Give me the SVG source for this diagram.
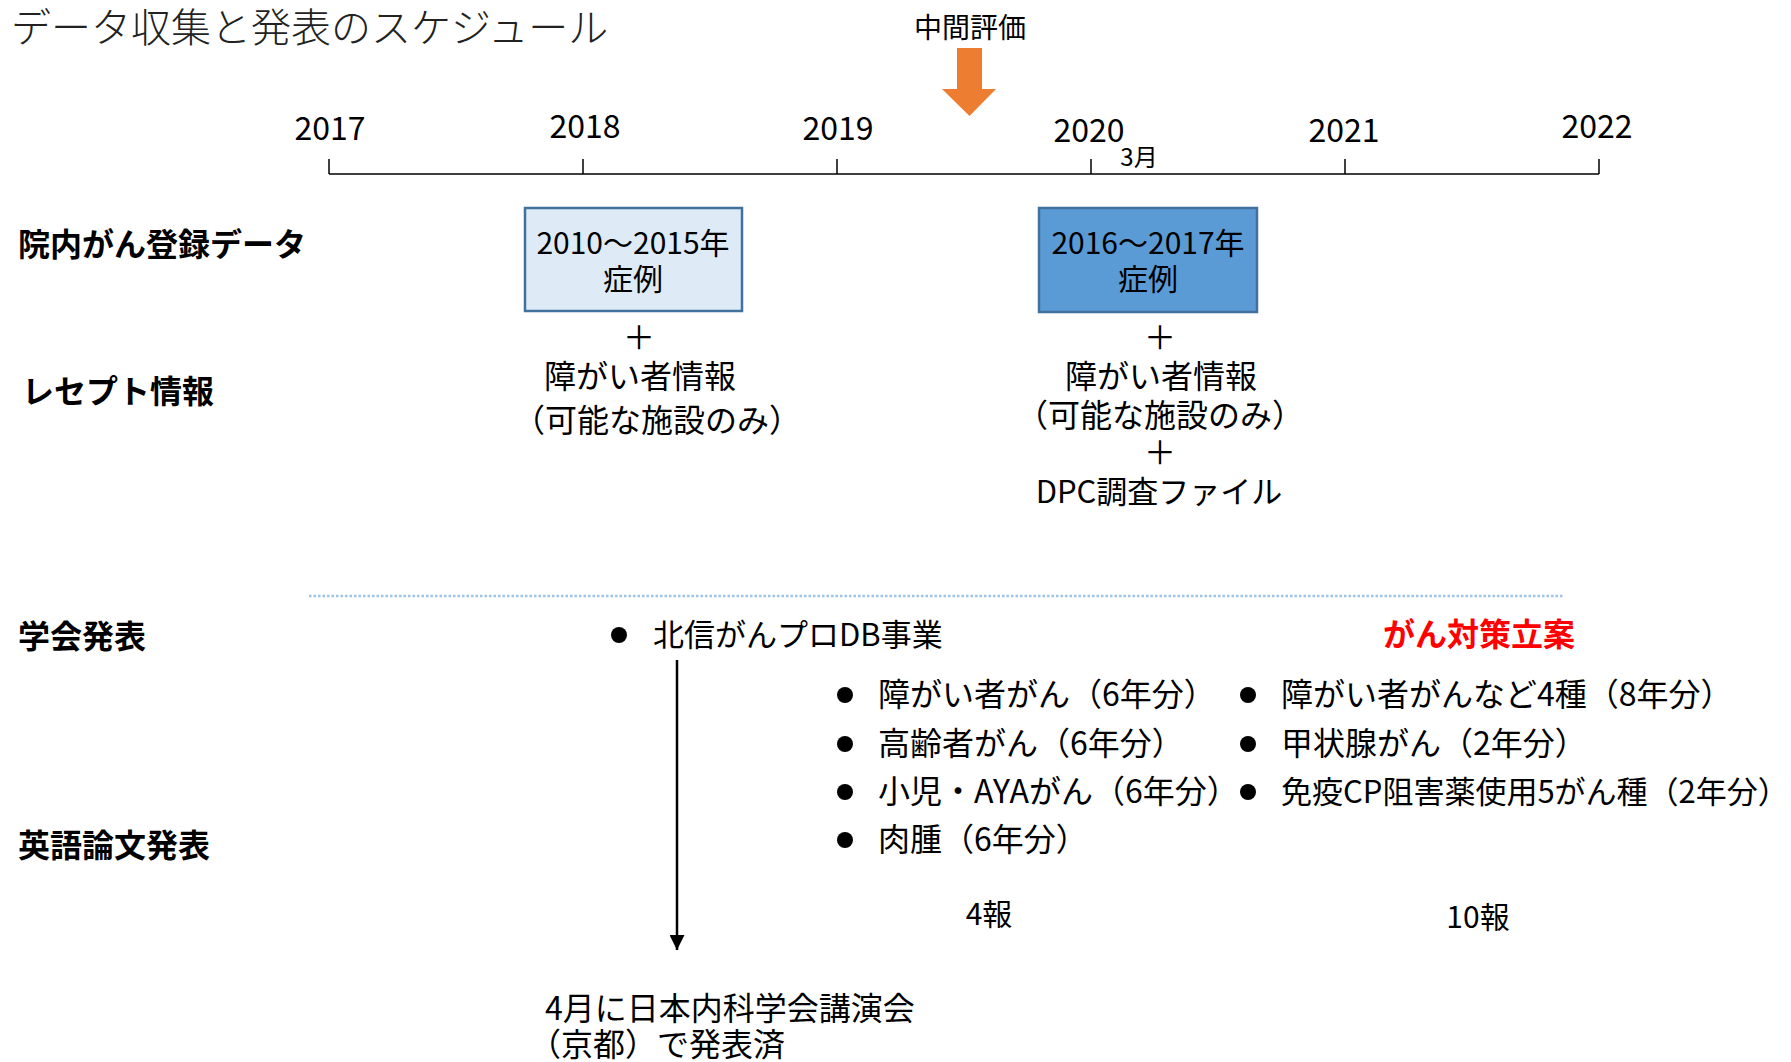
<svg xmlns="http://www.w3.org/2000/svg" width="1791" height="1062" viewBox="0 0 1791 1062">
<style>
text{font-family:"Noto Sans CJK JP","Noto Sans",sans-serif;fill:#000;}
.title{font-size:40px;font-weight:300;fill:#222;}
.year{font-size:32px;text-anchor:middle;}
.sec{font-size:32px;font-weight:700;}
.box{font-size:30px;text-anchor:middle;}
.t{font-size:32px;}
.tm{font-size:32px;text-anchor:middle;}
.red{font-size:32px;font-weight:700;fill:#FF0000;text-anchor:middle;}
.axis{stroke:#000;stroke-width:1.5;fill:none;}
</style>
<defs>
<marker id="ah" viewBox="0 0 10 10" refX="10" refY="5" markerWidth="6" markerHeight="6" orient="auto" markerUnits="strokeWidth">
<path d="M0,0 L10,5 L0,10 Z" fill="#000"/>
</marker>
</defs>
<g id="title"><text class="title" x="11" y="42">データ収集と発表のスケジュール</text></g>
<g id="timeline">
<line class="axis" x1="329" y1="174" x2="1599" y2="174"/>
<line class="axis" x1="329" y1="159" x2="329" y2="174"/>
<line class="axis" x1="583" y1="159" x2="583" y2="174"/>
<line class="axis" x1="837" y1="159" x2="837" y2="174"/>
<line class="axis" x1="1091" y1="159" x2="1091" y2="174"/>
<line class="axis" x1="1345" y1="159" x2="1345" y2="174"/>
<line class="axis" x1="1599" y1="159" x2="1599" y2="174"/>
<text class="year" x="330" y="140">2017</text>
<text class="year" x="585" y="138">2018</text>
<text class="year" x="838" y="140">2019</text>
<text class="year" x="1089" y="142">2020</text>
<text class="year" x="1344" y="142">2021</text>
<text class="year" x="1597" y="138">2022</text>
<text x="1139" y="166" style="font-size:24px;text-anchor:middle">3月</text>
</g>
<g id="midterm">
<text x="970" y="38" style="font-size:28px;text-anchor:middle">中間評価</text>
<path d="M957,48 H982 V89 H996 L969.5,116 L942,89 H957 Z" fill="#ED7D31"/>
</g>
<g id="labels">
<text class="sec" x="18" y="256">院内がん登録データ</text>
<text class="sec" x="22" y="403">レセプト情報</text>
<text class="sec" x="18" y="648">学会発表</text>
<text class="sec" x="18" y="857">英語論文発表</text>
</g>
<g id="box1">
<rect x="525" y="208" width="217" height="103" fill="#DEEBF7" stroke="#41719C" stroke-width="2.5"/>
<text class="box" x="633" y="254">2010～2015年</text>
<text class="box" x="633" y="290">症例</text>
</g>
<g id="box1-extra">
<text class="tm" x="639" y="349">＋</text>
<text class="tm" x="640" y="388">障がい者情報</text>
<text class="tm" x="657" y="432">（可能な施設のみ）</text>
</g>
<g id="box2">
<rect x="1039" y="208" width="218" height="104" fill="#5B9BD5" stroke="#41719C" stroke-width="2.5"/>
<text class="box" x="1148" y="254">2016～2017年</text>
<text class="box" x="1148" y="290">症例</text>
</g>
<g id="box2-extra">
<text class="tm" x="1160" y="349">＋</text>
<text class="tm" x="1161" y="388">障がい者情報</text>
<text class="tm" x="1160" y="427">（可能な施設のみ）</text>
<text class="tm" x="1160" y="464">＋</text>
<text x="1159" y="503" style="font-size:31px;text-anchor:middle">DPC調査ファイル</text>
</g>
<g id="divider">
<line x1="309" y1="596" x2="1563" y2="596" stroke="#9DC3E6" stroke-width="2.5" stroke-dasharray="2.5,2"/>
</g>
<g id="hokushin">
<circle cx="619" cy="635" r="8" fill="#000"/>
<text class="t" x="653" y="646" style="font-size:31px">北信がんプロDB事業</text>
</g>
<g id="gantaisaku"><text class="red" x="1479" y="646">がん対策立案</text></g>
<g id="list1">
<circle cx="845" cy="695" r="8" fill="#000"/>
<text class="t" x="878" y="706">障がい者がん（6年分）</text>
<circle cx="845" cy="744" r="8" fill="#000"/>
<text class="t" x="878" y="755">高齢者がん（6年分）</text>
<circle cx="845" cy="792" r="8" fill="#000"/>
<text class="t" x="878" y="803">小児・AYAがん（6年分）</text>
<circle cx="845" cy="840" r="8" fill="#000"/>
<text class="t" x="878" y="851">肉腫（6年分）</text>
</g>
<g id="list2">
<circle cx="1248" cy="695" r="8" fill="#000"/>
<text class="t" x="1281" y="706">障がい者がんなど4種（8年分）</text>
<circle cx="1248" cy="744" r="8" fill="#000"/>
<text class="t" x="1281" y="755">甲状腺がん（2年分）</text>
<circle cx="1248" cy="792" r="8" fill="#000"/>
<text class="t" x="1281" y="803" style="font-size:31px">免疫CP阻害薬使用5がん種（2年分）</text>
</g>
<g id="counts">
<text x="989" y="925" style="font-size:30px;text-anchor:middle">4報</text>
<text x="1478" y="928" style="font-size:30px;text-anchor:middle">10報</text>
</g>
<g id="connectors">
<line x1="677" y1="660" x2="677" y2="950" stroke="#000" stroke-width="2.5" marker-end="url(#ah)"/>
</g>
<g id="presented">
<text class="t" x="545" y="1020">4月に日本内科学会講演会</text>
<text class="t" x="529" y="1056">（京都）で発表済</text>
</g>
</svg>
